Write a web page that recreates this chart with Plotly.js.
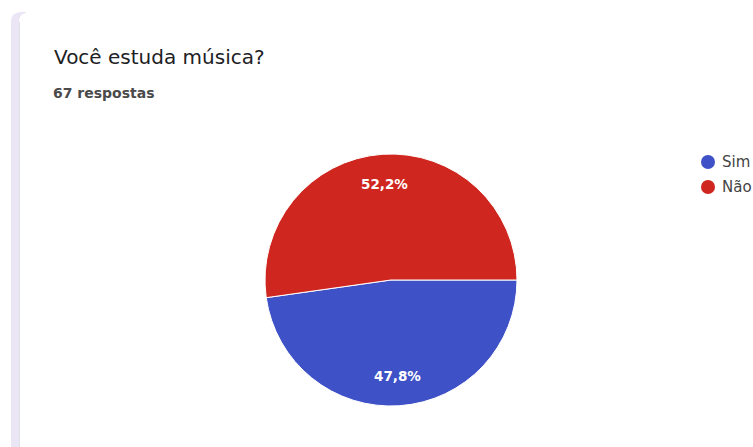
<!DOCTYPE html>
<html>
<head>
<meta charset="utf-8">
<script src="https://cdn.plot.ly/plotly-3.0.1.min.js"></script>
<style>html,body{margin:0;padding:0;background:#fff;}#chart{width:753px;height:447px;}</style>
</head>
<body>
<div id="chart"></div>
<script>
var categories = ["Sim", "Não"];
var responses = [32, 35];
var colors = ["#3f51c6", "#d02620"];
var titleText = "Você estuda música?";
var subtitleText = "67 respostas";

var W = 753, H = 447;
function px(x){ return x / W; }
function py(y){ return 1 - y / H; }

var pieCx = 391, pieCy = 280, pieR = 126;
var rotationDeg = 90;

var pie = {
  type: "pie",
  labels: categories,
  values: responses,
  sort: false,
  direction: "clockwise",
  rotation: rotationDeg,
  marker: {colors: colors, line: {color: "#ffffff", width: 1}},
  textinfo: "none",
  hoverinfo: "none",
  showlegend: false,
  domain: {x: [px(pieCx - pieR), px(pieCx + pieR)], y: [py(pieCy + pieR), py(pieCy - pieR)]}
};

var shapes = [
  {type: "path", xref: "paper", yref: "paper",
   path: "M " + px(11) + "," + py(447) + " L " + px(11) + "," + py(22) + " Q " + px(11) + "," + py(12) + " " + px(21) + "," + py(12) + " L " + px(26) + "," + py(12) + " L " + px(26) + "," + py(13) + " Q " + px(19) + "," + py(14) + " " + px(19) + "," + py(22) + " L " + px(19) + "," + py(447) + " Z",
   fillcolor: "#ebe6f5", line: {width: 0}, layer: "below"},
  {type: "line", xref: "paper", yref: "paper", x0: px(19.5), x1: px(19.5), y0: 0, y1: py(22),
   line: {color: "#dfe1e6", width: 1}}
];
var annotations = [
  {xref: "paper", yref: "paper", x: px(51), y: py(103), xanchor: "left", yanchor: "bottom",
   text: subtitleText, showarrow: false,
   font: {family: "DejaVu Sans, sans-serif", size: 14, weight: "bold", color: "#4a4a4a"}}
];

// slice percentage labels, placed at the middle angle of each slice
var total = responses.reduce(function(a, b){ return a + b; }, 0);
var startAngle = 90 - rotationDeg; // math degrees, counterclockwise from +x
var acc = 0;
for (var k = 0; k < responses.length; k++) {
  var frac = responses[k] / total;
  var mid = startAngle - 360 * (acc + frac / 2);
  acc += frac;
  var rad = mid * Math.PI / 180;
  var lx = pieCx + 0.76 * pieR * Math.cos(rad);
  var ly = pieCy - 0.76 * pieR * Math.sin(rad);
  annotations.push({xref: "paper", yref: "paper", x: px(lx), y: py(ly),
    xanchor: "center", yanchor: "middle", showarrow: false,
    text: (frac * 100).toFixed(1).replace(".", ",") + "%",
    font: {family: "DejaVu Sans, sans-serif", size: 13.5, weight: "bold", color: "#ffffff"}});
}

var legendY = [162, 187];
for (var i = 0; i < categories.length; i++) {
  shapes.push({type: "circle", xref: "paper", yref: "paper",
    x0: px(701), x1: px(715), y0: py(legendY[i] + 7), y1: py(legendY[i] - 7),
    fillcolor: colors[i], line: {width: 0}});
  annotations.push({xref: "paper", yref: "paper", x: px(720), y: py(legendY[i]),
    xanchor: "left", yanchor: "middle", text: categories[i], showarrow: false,
    font: {family: "DejaVu Sans, sans-serif", size: 15, color: "#444444"}});
}

var layout = {
  width: W, height: H,
  margin: {l: 0, r: 0, t: 0, b: 0},
  paper_bgcolor: "#ffffff",
  separators: ",.",
  title: {text: titleText, x: px(54), xanchor: "left", y: py(64), yanchor: "bottom",
          xref: "paper", yref: "paper",
          font: {family: "DejaVu Sans, sans-serif", size: 20, color: "#202124"}},
  shapes: shapes,
  annotations: annotations,
  showlegend: false
};
Plotly.newPlot("chart", [pie], layout, {displayModeBar: false, staticPlot: true});
</script>
</body>
</html>
